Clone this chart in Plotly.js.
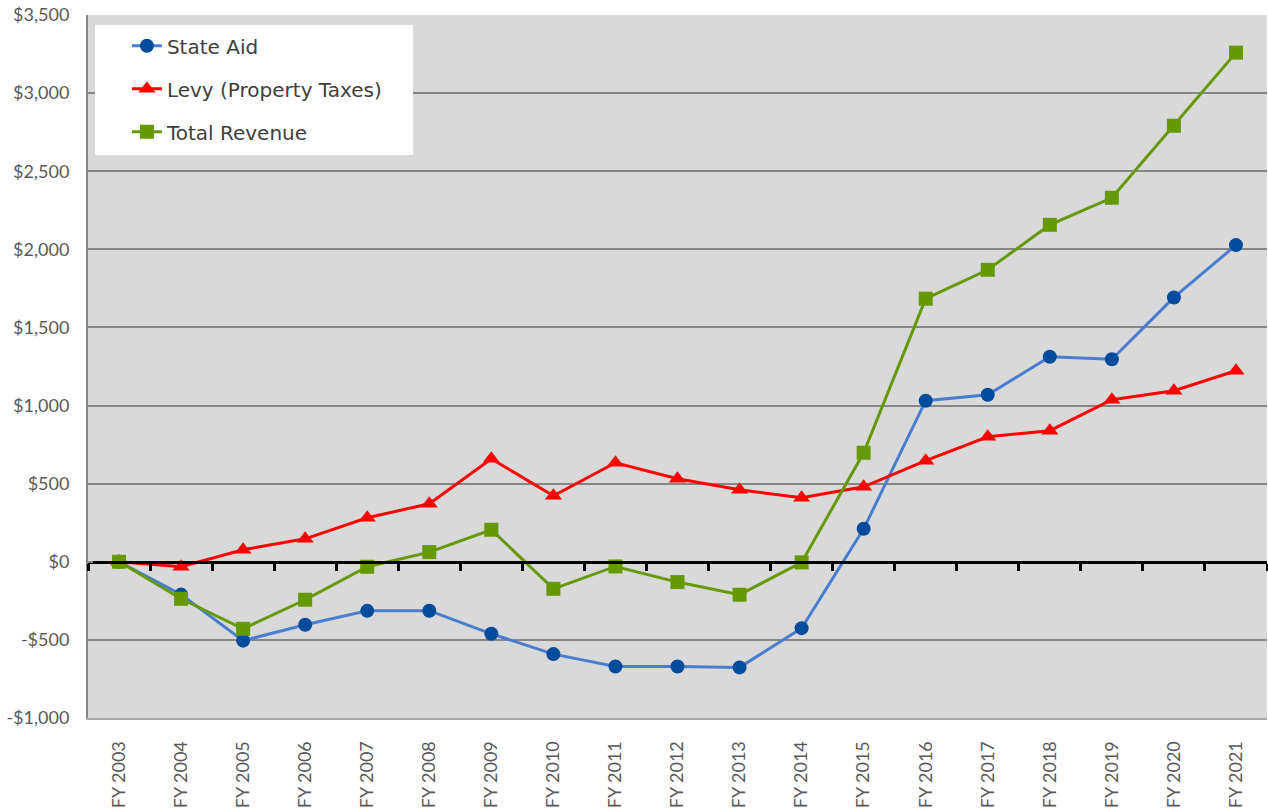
<!DOCTYPE html>
<html>
<head>
<meta charset="utf-8">
<script src="https://cdn.plot.ly/plotly-3.0.1.min.js"></script>
<style>html,body{margin:0;padding:0;background:#fff;}#chart{width:1268px;height:808px;}</style>
</head>
<body>
<div id="chart"></div>
<script>
const categories = ["FY 2003","FY 2004","FY 2005","FY 2006","FY 2007","FY 2008","FY 2009","FY 2010","FY 2011","FY 2012","FY 2013","FY 2014","FY 2015","FY 2016","FY 2017","FY 2018","FY 2019","FY 2020","FY 2021"];
const stateAid = [0,-210,-505,-403,-314,-313,-461,-591,-670,-670,-676,-425,211,1031,1069,1312,1296,1692,2027];
const levy = [0,-32,77,147,282,371,659,422,634,531,461,410,480,647,800,839,1037,1095,1223];
const totalRevenue = [0,-237,-429,-243,-32,62,205,-173,-30,-130,-211,-4,698,1684,1869,2157,2330,2791,3259];
const yTickVals = [-1000,-500,0,500,1000,1500,2000,2500,3000,3500];
const yTickText = ["-$1,000","-$500","$0","$500","$1,000","$1,500","$2,000","$2,500","$3,000","$3,500"];

const idx = categories.map((c,i)=>i);
const boundaries = categories.map((c,i)=>i-0.5).concat([categories.length-0.5]);

const traces = [
  {x: idx, y: stateAid, name: "State Aid", type: "scatter", mode: "lines+markers",
   line: {color: "#4a7dd0", width: 3}, marker: {symbol: "circle", size: 14, color: "#004c9c"}, legendgroup: "a"},
  {x: idx, y: levy, name: "Levy (Property Taxes)", type: "scatter", mode: "lines+markers",
   line: {color: "#ff0000", width: 3}, marker: {symbol: "triangle-up", size: 15, color: "#ff0000"}, legendgroup: "b"},
  {x: idx, y: totalRevenue, name: "Total Revenue", type: "scatter", mode: "lines+markers",
   line: {color: "#669900", width: 3}, marker: {symbol: "square", size: 14, color: "#669900"}, legendgroup: "c"},
  {x: [0], y: [0], xaxis: "x2", yaxis: "y", showlegend: false, mode: "markers", marker: {opacity: 0}, hoverinfo: "skip"}
];

const layout = {
  width: 1268, height: 808,
  margin: {l: 88, r: 1, t: 15, b: 90, pad: 0},
  paper_bgcolor: "#ffffff",
  plot_bgcolor: "#d9d9d9",
  font: {family: "Lato, sans-serif", color: "#595959", size: 18},
  showlegend: true,
  legend: {
    x: 0.033, y: 0.984, xanchor: "left", yanchor: "top",
    bgcolor: "rgba(0,0,0,0)", borderwidth: 0,
    font: {family: "DejaVu Sans, sans-serif", size: 20, color: "#404040"},
    traceorder: "grouped", tracegroupgap: 14,
    itemwidth: 30
  },
  shapes: [
    {type: "rect", xref: "paper", yref: "paper", x0: 0.0059, x1: 0.2757, y0: 0.8009, y1: 0.9858,
     fillcolor: "#ffffff", line: {width: 0}, layer: "above"}
  ],
  xaxis: {
    range: [-0.5, categories.length - 0.5],
    tickmode: "array", tickvals: idx, ticktext: categories,
    tickangle: -90, ticks: "", ticklabelstandoff: 14,
    showgrid: false, zeroline: false,
    showline: true, linecolor: "#a6a6a6", linewidth: 2, mirror: false,
    fixedrange: true
  },
  xaxis2: {
    overlaying: "x", anchor: "free", side: "bottom",
    position: (0 - (-1000)) / (3500 - (-1000)),
    range: [-0.5, categories.length - 0.5],
    tickmode: "array", tickvals: boundaries, showticklabels: false,
    ticks: "outside", ticklen: 7, tickwidth: 3, tickcolor: "#000000",
    showline: true, linecolor: "#000000", linewidth: 3,
    showgrid: false, zeroline: false
  },
  yaxis: {
    range: [-1000, 3500],
    tickmode: "array", tickvals: yTickVals, ticktext: yTickText,
    showgrid: true, gridcolor: "#868686", gridwidth: 2,
    zeroline: false,
    showline: true, linecolor: "#868686", linewidth: 2,
    ticks: "inside", ticklen: 5, tickcolor: "#868686", tickwidth: 2,
    ticklabelstandoff: 13,
    fixedrange: true
  }
};

Plotly.newPlot("chart", traces, layout, {displayModeBar: false, staticPlot: true});
</script>
</body>
</html>
